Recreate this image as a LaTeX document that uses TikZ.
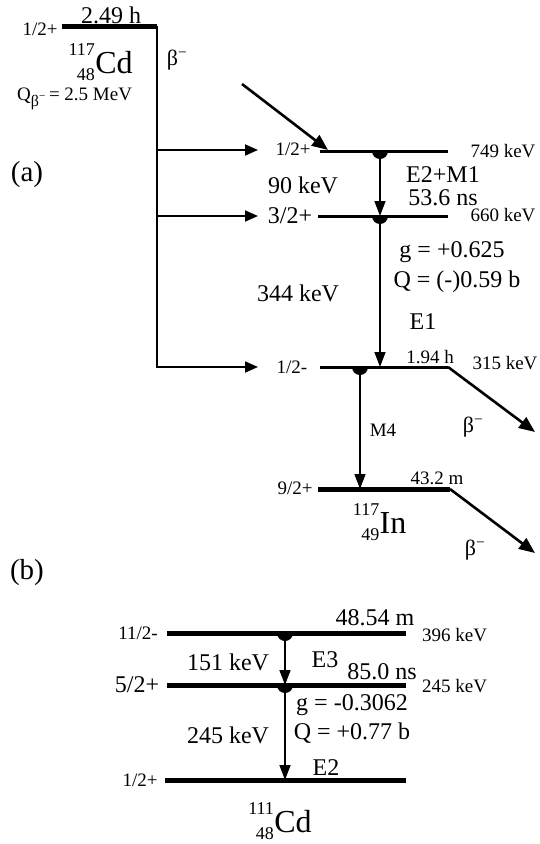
\documentclass[tikz,border=0pt]{standalone}
\usepackage{fontspec}
\setmainfont{Liberation Serif}
\usetikzlibrary{
  arrows.meta,
  positioning,
  calc
}
\definecolor{lsInk}{HTML}{000000}
\tikzset{
  lvl/.style={line width=3pt, draw=lsInk},
  lvlbold/.style={line width=5pt, draw=lsInk},
  gam/.style={line width=1.5pt, draw=lsInk, -{Triangle[length=15pt, width=11pt]}},
  feed/.style={line width=1.8pt, draw=lsInk, -{Triangle[length=13pt, width=11pt]}},
  betaout/.style={line width=2.6pt, draw=lsInk, -{Triangle[length=16pt, width=13pt]}},
  biglbl/.style={font=\fontsize{24}{28}\selectfont, inner sep=0pt},
  smalllbl/.style={font=\fontsize{19}{22}\selectfont, inner sep=0pt},
  betalbl/.style={font=\fontsize{22}{26}\selectfont, inner sep=0pt},
  nuclbl/.style={font=\fontsize{32}{36}\selectfont, inner sep=0pt, anchor=base},
  isolbl/.style={font=\fontsize{18}{20}\selectfont, inner sep=0pt, anchor=base east},
  panellbl/.style={font=\fontsize{29}{34}\selectfont, inner sep=0pt},
  halfdot/.pic={\fill[lsInk] (-8pt,0pt) arc[start angle=180, end angle=360, radius=8pt] -- cycle;}
}
\newcommand{\betam}{β\textsuperscript{−}}

\begin{document}
\begin{tikzpicture}[x=1pt, y=-1pt]
  \useasboundingbox (0,0) rectangle (539,844);

  \coordinate (cdW) at (62,26);
  \coordinate (cdE) at (157,26);
  \coordinate (f749) at (157,150);
  \coordinate (f749t) at (258,150);
  \coordinate (f660) at (157,216);
  \coordinate (f660t) at (258,216);
  \coordinate (f315t) at (258,367);
  \coordinate (inS) at (242,84);
  \coordinate (inT) at (328,150);
  \coordinate (l749w) at (320,151);
  \coordinate (l749e) at (448,151);
  \coordinate (g749) at (380,151);
  \coordinate (l660w) at (318,216);
  \coordinate (l660e) at (448,216);
  \coordinate (g660a) at (380,216);
  \coordinate (l315w) at (320,367);
  \coordinate (l315e) at (448,367);
  \coordinate (g315a) at (380,367);
  \coordinate (g315) at (360,367);
  \coordinate (b315t) at (535,432);
  \coordinate (l92w) at (318,489);
  \coordinate (l92e) at (450,489);
  \coordinate (g92a) at (360,489);
  \coordinate (b92t) at (535,553);

  \draw[lvlbold] (cdW) -- (cdE);
  \draw[feed] (cdE) |- (f315t);
  \draw[feed] (f749) -- (f749t);
  \draw[feed] (f660) -- (f660t);
  \draw[betaout] (inS) -- (inT);

  \draw[lvl] (l749w) -- (l749e);
  \draw[lvl] (l660w) -- (l660e);
  \draw[lvl] (l315w) -- (l315e);
  \draw[betaout] (l315e) -- (b315t);
  \draw[lvlbold] (l92w) -- (l92e);
  \draw[betaout] (l92e) -- (b92t);

  \draw[gam] (g749) -- (g660a);
  \draw[gam] (g660a) -- (g315a);
  \draw[gam] (g315) -- (g92a);
  \pic at (g749) {halfdot};
  \pic at (g660a) {halfdot};
  \pic at (g315) {halfdot};

  \node[smalllbl] (spCd) at (40,29) {1/2+};
  \node[biglbl] (tCd) at (111,15) {2.49 h};
  \node[betalbl] (betaTop) at (177,60) {\betam};
  \node[nuclbl] (cd117) at (114,73) {Cd};
  \node[isolbl] (cd117a) at ($(cd117.base west)+(0,-18)$) {117};
  \node[isolbl] (cd117z) at ($(cd117.base west)+(0,7)$) {48};
  \node[smalllbl, anchor=base west] (qbeta) at (17,100) {Q\raisebox{-6pt}{\fontsize{16}{16}\selectfont β\textsuperscript{−}}\,= 2.5 MeV};
  \node[panellbl] (lblA) at (27,175) {(a)};

  \node[smalllbl] (sp749) at (293,149) {1/2+};
  \node[smalllbl] (e749) at (503,151) {749 keV};
  \node[biglbl] (mult749) at (443,175) {E2+M1};
  \node[biglbl] (t749) at (443,198) {53.6 ns};
  \node[biglbl] (eg90) at (303,185) {90 keV};

  \node[biglbl] (sp660) at (290,216) {3/2+};
  \node[smalllbl] (e660) at (503,215) {660 keV};
  \node[biglbl] (gfac660) at (452,252) {g = +0.625};
  \node[biglbl] (qmom660) at (457,282) {Q = (-)0.59 b};
  \node[biglbl] (eg344) at (298,293) {344 keV};
  \node[biglbl] (mult344) at (423,322) {E1};

  \node[smalllbl] (sp315) at (292,367) {1/2-};
  \node[smalllbl] (t315) at (430,357) {1.94 h};
  \node[smalllbl] (e315) at (505,363) {315 keV};
  \node[smalllbl] (mult315) at (383,430) {M4};
  \node[betalbl] (beta315) at (473,427) {\betam};

  \node[smalllbl] (sp92) at (295,488) {9/2+};
  \node[smalllbl] (t92) at (437,478) {43.2 m};
  \node[nuclbl] (in117) at (393,533) {In};
  \node[isolbl] (in117a) at ($(in117.base west)+(0,-18)$) {117};
  \node[isolbl] (in117z) at ($(in117.base west)+(0,7)$) {49};
  \node[betalbl] (beta92) at (475,550) {\betam};

  \node[panellbl] (lblB) at (27,573) {(b)};

  \coordinate (b112w) at (167,633);
  \coordinate (b112e) at (406,633);
  \coordinate (gb112) at (285,633);
  \coordinate (b52w) at (167,685);
  \coordinate (b52e) at (406,685);
  \coordinate (gb52) at (285,685);
  \coordinate (b12w) at (165,780);
  \coordinate (b12e) at (406,780);
  \coordinate (gb12) at (285,780);

  \draw[lvlbold] (b112w) -- (b112e);
  \draw[lvlbold] (b52w) -- (b52e);
  \draw[lvlbold] (b12w) -- (b12e);
  \draw[gam] (gb112) -- (gb52);
  \draw[gam] (gb52) -- (gb12);
  \pic at (gb112) {halfdot};
  \pic at (gb52) {halfdot};

  \node[smalllbl] (sp112) at (138,633) {11/2-};
  \node[biglbl] (t112) at (375,618) {48.54 m};
  \node[smalllbl, anchor=west] (e396) at (422,635) {396 keV};
  \node[biglbl] (eg151) at (228,662) {151 keV};
  \node[biglbl] (mult151) at (325,660) {E3};
  \node[biglbl] (t52) at (382,672) {85.0 ns};
  \node[biglbl] (sp52) at (137,685) {5/2+};
  \node[smalllbl, anchor=west] (e245) at (422,686) {245 keV};
  \node[biglbl] (gfac52) at (352,705) {g = -0.3062};
  \node[biglbl] (qmom52) at (352,733) {Q = +0.77 b};
  \node[biglbl] (eg245) at (228,735) {245 keV};
  \node[biglbl] (mult245) at (326,768) {E2};
  \node[smalllbl] (sp12) at (140,780) {1/2+};
  \node[nuclbl] (cd111) at (293,832) {Cd};
  \node[isolbl] (cd111a) at ($(cd111.base west)+(0,-18)$) {111};
  \node[isolbl] (cd111z) at ($(cd111.base west)+(0,7)$) {48};
\end{tikzpicture}
\end{document}
